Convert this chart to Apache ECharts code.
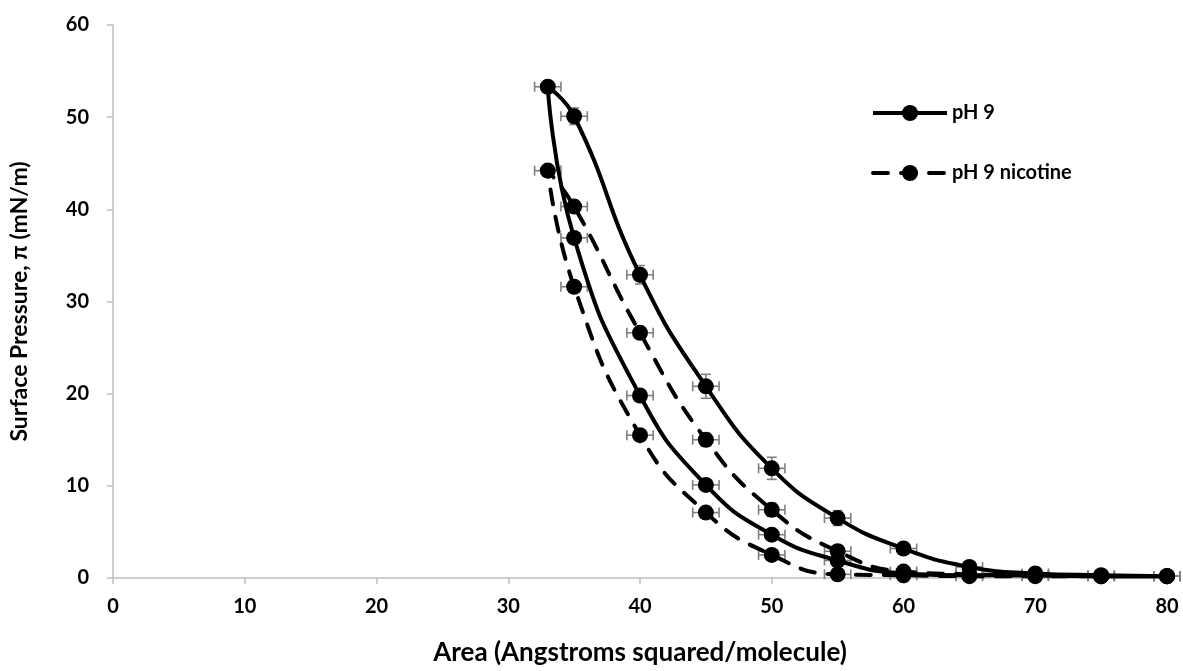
<!DOCTYPE html>
<html>
<head>
<meta charset="utf-8">
<script src="https://cdn.jsdelivr.net/npm/echarts@6/dist/echarts.min.js"></script>
<style>
  html, body { margin: 0; padding: 0; background: #fff; }
  #chart { width: 1183px; height: 671px; }
</style>
</head>
<body>
<div id="chart"></div>
<script>
// area path: compression branch from 80 down to 33, then back out to 80
var area = [80, 75, 70, 65, 60, 55, 50, 45, 40, 35, 33, 35, 40, 45, 50, 55, 60, 65, 70, 75, 80];

// pH 9
var ph9 = [0.2, 0.3, 0.5, 1.2, 3.2, 6.5, 11.9, 20.8, 32.9, 50.1, 53.3, 36.9, 19.8, 10.1, 4.7, 1.9, 0.5, 0.3, 0.3, 0.2, 0.2];
var ph9ErrY = [0.1, 0.1, 0.2, 0.3, 0.5, 0.8, 1.2, 1.3, 1.0, 0.9, 0.4, 0.5, 0.6, 0.5, 0.4, 0.5, 0.2, 0.1, 0.1, 0.1, 0.1];

// pH 9 nicotine
var ph9Nic = [0.2, 0.2, 0.3, 0.4, 0.7, 2.9, 7.4, 15.0, 26.6, 40.3, 44.2, 31.6, 15.5, 7.1, 2.5, 0.4, 0.3, 0.2, 0.2, 0.2, 0.2];
var ph9NicErrY = [0.1, 0.1, 0.1, 0.2, 0.3, 0.6, 0.7, 0.7, 0.6, 0.5, 0.4, 0.5, 0.5, 0.4, 0.3, 0.2, 0.1, 0.1, 0.1, 0.1, 0.1];

// horizontal error (area)
var errX = 1;

var FONT = 'Lato';

function pairs(xs, ys) {
  return xs.map(function (x, i) { return [x, ys[i]]; });
}
function errData(xs, ys, ey) {
  return xs.map(function (x, i) { return [x, ys[i], errX, ey[i]]; });
}

// error bars drawn through the axes
function renderErr(params, api) {
  var x = api.value(0), y = api.value(1), xe = api.value(2), ye = api.value(3);
  var l = api.coord([x - xe, y]), r = api.coord([x + xe, y]);
  var b = api.coord([x, Math.max(0, y - ye)]), t = api.coord([x, y + ye]);
  var c = 5;
  var st = { stroke: '#7f7f7f', lineWidth: 1.6 };
  return {
    type: 'group',
    children: [
      { type: 'line', shape: { x1: l[0], y1: l[1], x2: r[0], y2: r[1] }, style: st },
      { type: 'line', shape: { x1: l[0], y1: l[1] - c, x2: l[0], y2: l[1] + c }, style: st },
      { type: 'line', shape: { x1: r[0], y1: r[1] - c, x2: r[0], y2: r[1] + c }, style: st },
      { type: 'line', shape: { x1: b[0], y1: b[1], x2: t[0], y2: t[1] }, style: st },
      { type: 'line', shape: { x1: b[0] - c, y1: b[1], x2: b[0] + c, y2: b[1] }, style: st },
      { type: 'line', shape: { x1: t[0] - c, y1: t[1], x2: t[0] + c, y2: t[1] }, style: st }
    ]
  };
}

var chart = echarts.init(document.getElementById('chart'));

var option = {
  animation: false,
  backgroundColor: '#fff',
  textStyle: { fontFamily: FONT },
  grid: { left: 113, right: 16, top: 25, bottom: 92 },
  legend: {
    data: ['pH 9', 'pH 9 nicotine'],
    orient: 'vertical',
    left: 866,
    top: 98,
    itemWidth: 74,
    itemHeight: 20,
    itemGap: 40,
    lineStyle: { width: 4 },
    textStyle: { fontFamily: FONT, fontWeight: 'bold', fontSize: 20, color: '#000' }
  },
  xAxis: {
    type: 'value',
    min: 0,
    max: 80,
    interval: 10,
    name: 'Area (Angstroms squared/molecule)',
    nameLocation: 'middle',
    nameGap: 62,
    nameTextStyle: { fontFamily: FONT, fontWeight: 'bold', fontSize: 26, color: '#000' },
    axisLine: { onZero: false, lineStyle: { color: '#bfbfbf', width: 1.5 } },
    axisTick: { length: 6, lineStyle: { color: '#bfbfbf', width: 1.5 } },
    axisLabel: { margin: 19, fontFamily: FONT, fontWeight: 'bold', fontSize: 20, color: '#000' },
    splitLine: { show: false }
  },
  yAxis: {
    type: 'value',
    min: 0,
    max: 60,
    interval: 10,
    name: 'Surface Pressure, \u03c0 (mN/m)',
    nameLocation: 'middle',
    nameGap: 82,
    nameTextStyle: { fontFamily: FONT, fontWeight: 'bold', fontSize: 23, color: '#000' },
    axisLine: { show: true, lineStyle: { color: '#bfbfbf', width: 1.5 } },
    axisTick: { show: true, length: 6, lineStyle: { color: '#bfbfbf', width: 1.5 } },
    axisLabel: { margin: 24, fontFamily: FONT, fontWeight: 'bold', fontSize: 20, color: '#000' },
    splitLine: { show: false }
  },
  series: [
    {
      name: 'err pH 9',
      type: 'custom',
      renderItem: renderErr,
      encode: { x: 0, y: 1 },
      data: errData(area, ph9, ph9ErrY),
      z: 1
    },
    {
      name: 'err pH 9 nicotine',
      type: 'custom',
      renderItem: renderErr,
      encode: { x: 0, y: 1 },
      data: errData(area, ph9Nic, ph9NicErrY),
      z: 1
    },
    {
      name: 'pH 9',
      type: 'line',
      smooth: 0.5,
      symbol: 'circle',
      symbolSize: 16,
      showAllSymbol: true,
      itemStyle: { color: '#000' },
      lineStyle: { color: '#000', width: 4 },
      data: pairs(area, ph9),
      z: 3
    },
    {
      name: 'pH 9 nicotine',
      type: 'line',
      smooth: 0.5,
      symbol: 'circle',
      symbolSize: 16,
      showAllSymbol: true,
      itemStyle: { color: '#000' },
      lineStyle: { color: '#000', width: 4, type: [15, 13], cap: 'round' },
      data: pairs(area, ph9Nic),
      z: 3
    }
  ]
};

chart.setOption(option);
</script>
</body>
</html>
